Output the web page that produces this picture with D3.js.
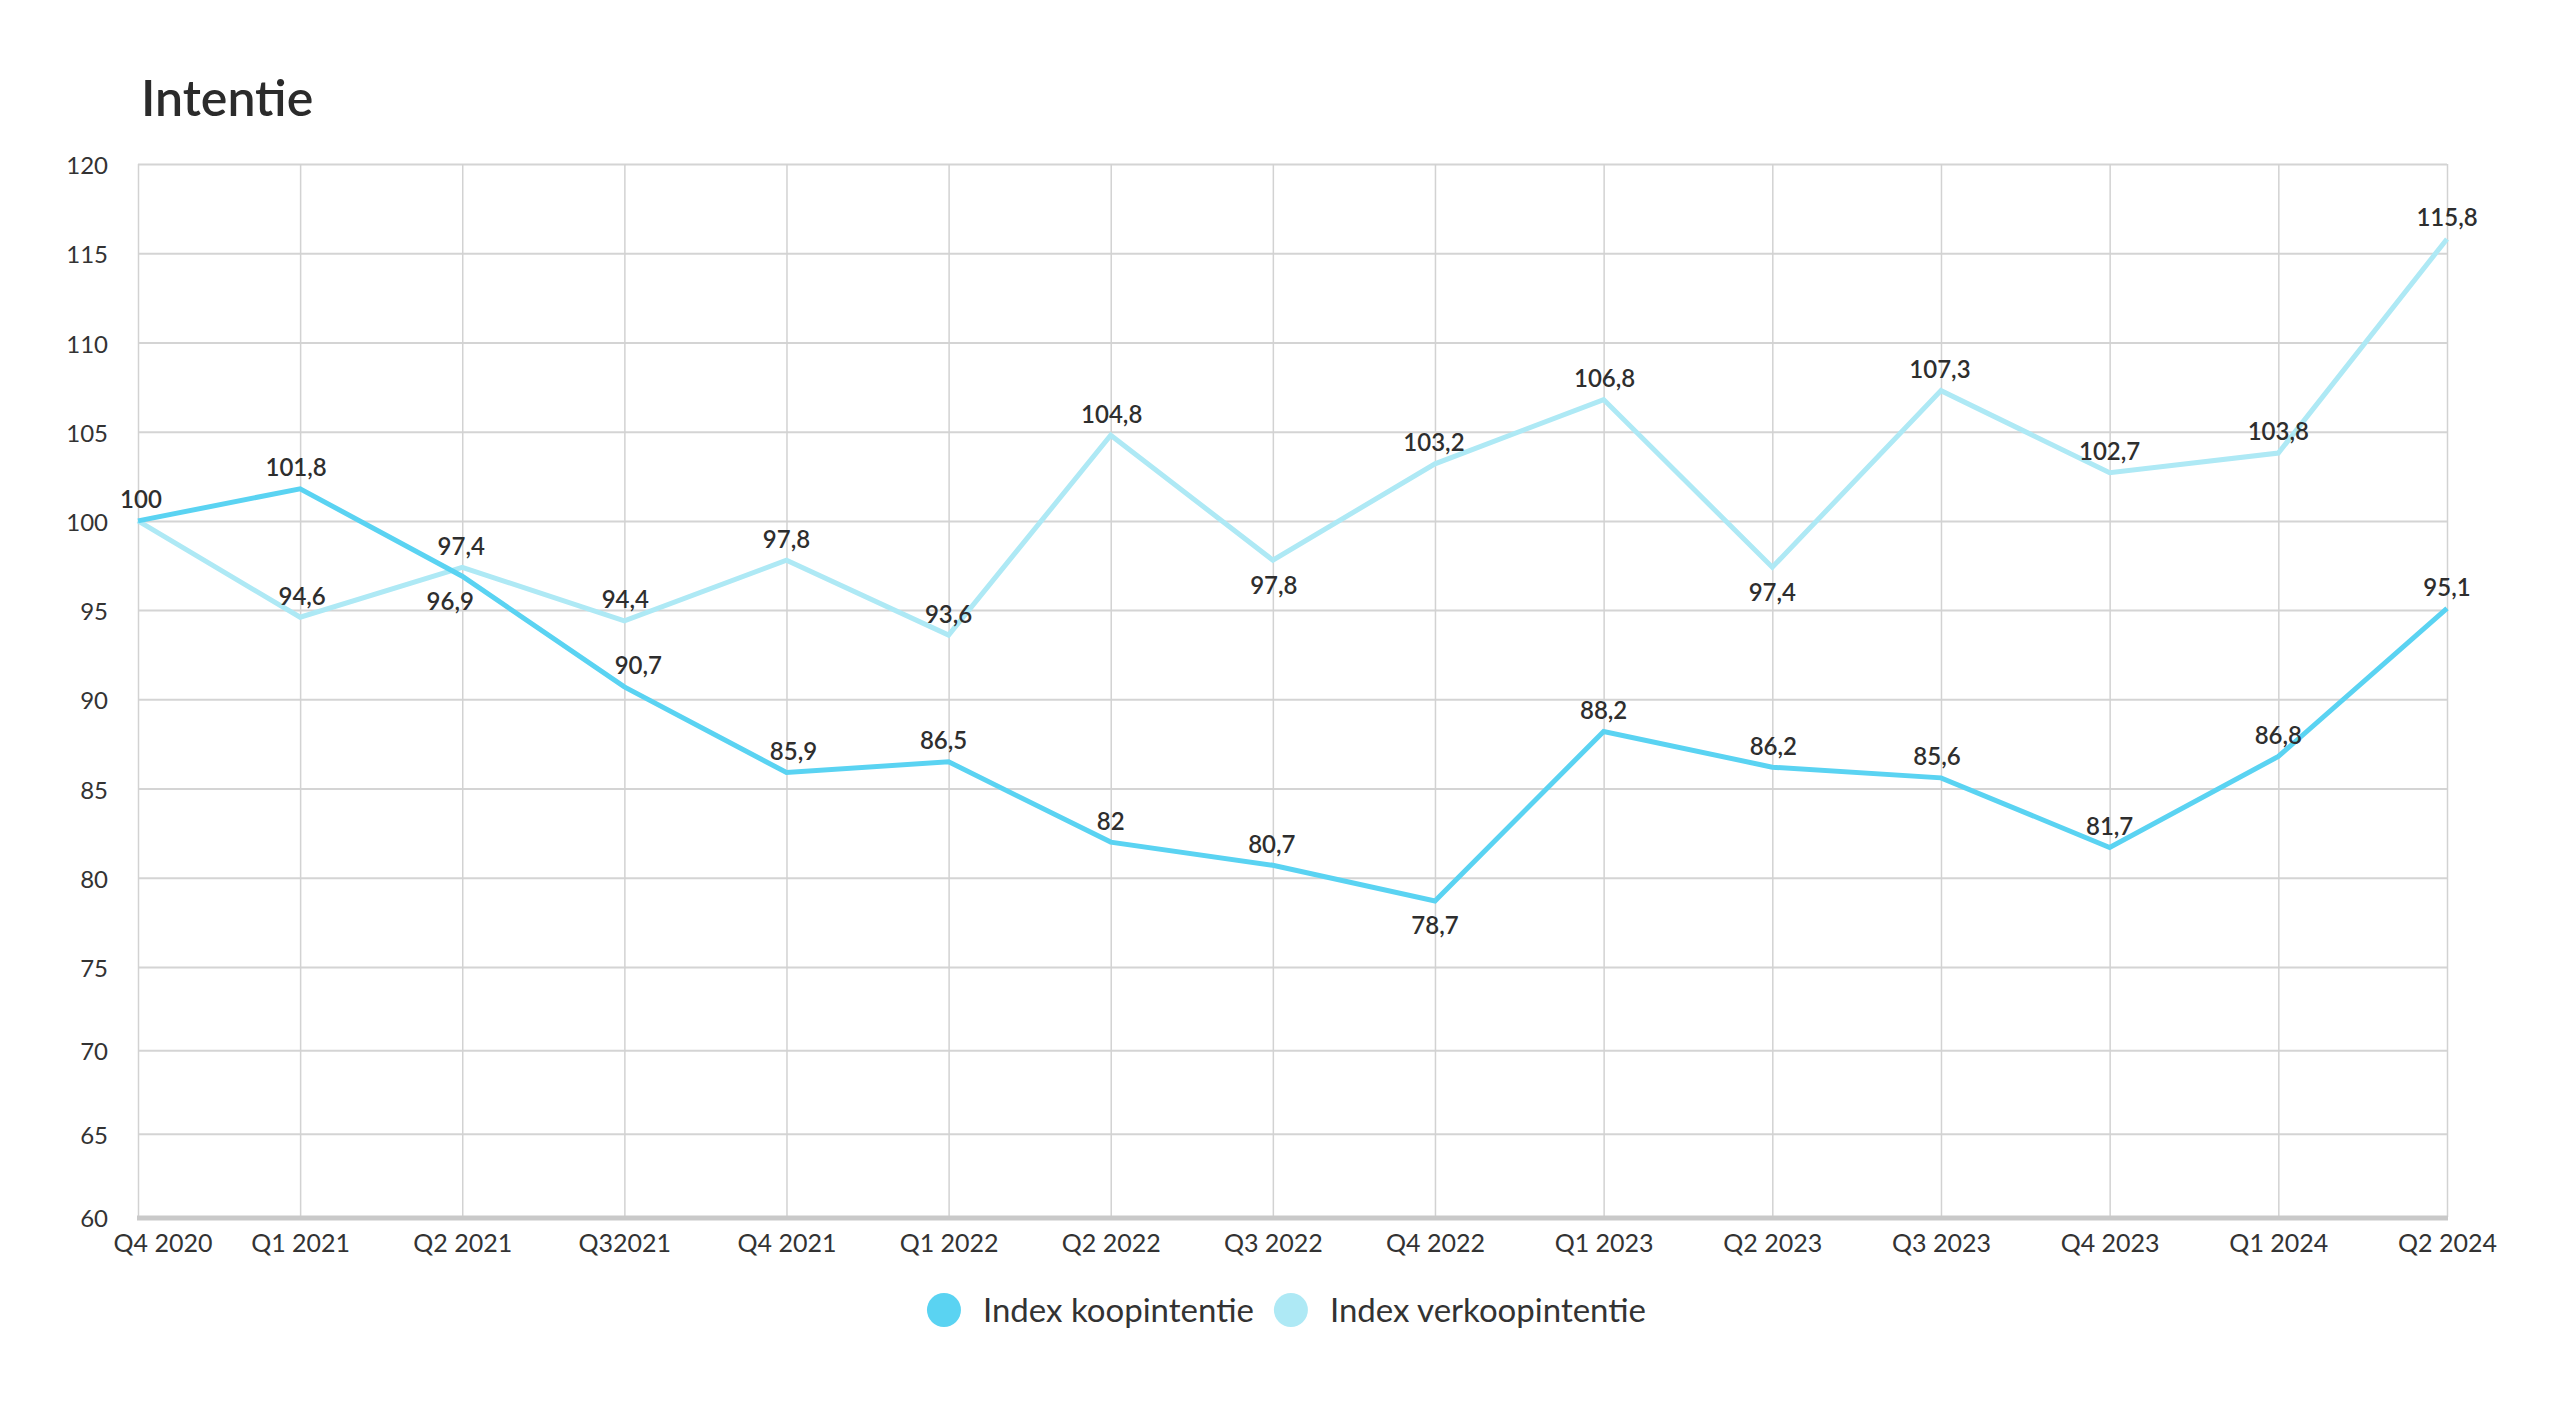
<!DOCTYPE html>
<html>
<head>
<meta charset="utf-8">
<script src="https://cdn.jsdelivr.net/npm/d3@7"></script>
<style>
  html, body { margin: 0; padding: 0; background: #ffffff; }
  svg { display: block; font-family: Lato, "Open Sans", sans-serif; }
</style>
</head>
<body>
<svg id="chart" width="2573" height="1417"></svg>
<script>
// ---------- data ----------
const categories = ["Q4 2020","Q1 2021","Q2 2021","Q32021","Q4 2021","Q1 2022","Q2 2022","Q3 2022","Q4 2022","Q1 2023","Q2 2023","Q3 2023","Q4 2023","Q1 2024","Q2 2024"];
const koopintentie = [100, 101.8, 96.9, 90.7, 85.9, 86.5, 82, 80.7, 78.7, 88.2, 86.2, 85.6, 81.7, 86.8, 95.1];
const verkoopintentie = [100, 94.6, 97.4, 94.4, 97.8, 93.6, 104.8, 97.8, 103.2, 106.8, 97.4, 107.3, 102.7, 103.8, 115.8];
const yTicks = [60, 65, 70, 75, 80, 85, 90, 95, 100, 105, 110, 115, 120];
const seriesNames = ["Index koopintentie", "Index verkoopintentie"];
const titleText = "Intentie";

// ---------- label placement (style, not data) ----------
// a = above, b = below, n = none ; with optional horizontal nudge
const koopLabelPos = ["a","a","b","a","a","a","a","a","b","a","a","a","a","a","a"];
const koopLabelDx  = [3,-4,-12,14,7,-5,0,-1,0,0,1,-4,0,0,0];
const verkLabelPos = ["n","a","a","a","a","a","a","b","a","a","b","a","a","a","a"];
const verkLabelDx  = [0,2,-1,1,0,0,1,1,-1,1,0,-1,0,0,0];

// ---------- layout ----------
const W = 2573, H = 1417;
const plotLeft = 138, plotRight = 2447, plotTop = 164, plotBottom = 1217;
const colorKoop = "#5ad3f2";
const colorVerk = "#aee9f5";
const textColor = "#2e2e2e";

const svg = d3.select("#chart");

// x scale: slightly wider spacing after Q4 2022 as in the reference
const xBreak = plotLeft + (plotRight - plotLeft) * 0.5617;
const x = d3.scaleLinear()
  .domain([0, 8, categories.length - 1])
  .range([plotLeft, xBreak, plotRight]);

// y scale: lower band slightly compressed, as in the reference
const yBreak = plotBottom - (plotBottom - plotTop) * 0.2374;
const y = d3.scaleLinear()
  .domain([60, 75, 120])
  .range([plotBottom, yBreak, plotTop]);

// title
svg.append("text")
  .attr("x", 141)
  .attr("y", 116)
  .attr("font-size", 50)
  .attr("font-weight", 600)
  .attr("fill", "#2b2b2b")
  .text(titleText);

// horizontal gridlines
const gy = svg.append("g")
  .attr("transform", `translate(${plotLeft},0)`)
  .call(d3.axisLeft(y).tickValues(yTicks).tickSize(-(plotRight - plotLeft)).tickFormat(""));
gy.select(".domain").remove();
gy.selectAll(".tick line").attr("stroke", "#d4d4d4").attr("stroke-width", 2);

// vertical gridlines
const gx = svg.append("g")
  .attr("transform", `translate(0,${plotBottom})`)
  .call(d3.axisBottom(x).tickValues(d3.range(categories.length)).tickSize(-(plotBottom - plotTop)).tickFormat(""));
gx.select(".domain").remove();
gx.selectAll(".tick line").attr("stroke", "#d2d2d2").attr("stroke-width", 1.5);

// baseline
svg.append("line")
  .attr("x1", plotLeft - 1).attr("x2", plotRight + 1)
  .attr("y1", y(60) + 1).attr("y2", y(60) + 1)
  .attr("stroke", "#c9c9c9").attr("stroke-width", 5);

// y tick labels
const yl = svg.append("g")
  .attr("transform", `translate(${plotLeft},0)`)
  .call(d3.axisLeft(y).tickValues(yTicks).tickSize(0).tickPadding(30).tickFormat(d3.format("d")));
yl.select(".domain").remove();
yl.selectAll("text")
  .attr("font-family", "Lato, sans-serif")
  .attr("font-size", 24)
  .attr("fill", "#333333")
  .attr("dy", "0.4em");

// x tick labels
const xl = svg.append("g")
  .attr("transform", `translate(0,${plotBottom})`)
  .call(d3.axisBottom(x).tickValues(d3.range(categories.length)).tickSize(0).tickPadding(17).tickFormat(i => categories[i]));
xl.select(".domain").remove();
xl.selectAll("text")
  .attr("font-family", "Lato, sans-serif")
  .attr("font-size", 25)
  .attr("fill", "#333333");
xl.selectAll(".tick").filter(i => i === 0).select("text")
  .attr("text-anchor", "start")
  .attr("x", -25);

// lines
const line = d3.line().x((d, i) => x(i)).y(d => y(d));
svg.append("path")
  .datum(verkoopintentie)
  .attr("fill", "none")
  .attr("stroke", colorVerk)
  .attr("stroke-width", 5)
  .attr("stroke-linejoin", "miter")
  .attr("d", line);
svg.append("path")
  .datum(koopintentie)
  .attr("fill", "none")
  .attr("stroke", colorKoop)
  .attr("stroke-width", 5)
  .attr("stroke-linejoin", "miter")
  .attr("d", line);

// data labels
const fmt = v => String(v).replace(".", ",");
function addLabels(values, pos, dxs) {
  svg.append("g").selectAll("text")
    .data(values.map((v, i) => ({ v, i })).filter(d => pos[d.i] !== "n"))
    .join("text")
    .attr("x", d => x(d.i) + dxs[d.i])
    .attr("y", d => y(d.v) + (pos[d.i] === "a" ? -21 : 25))
    .attr("dy", "0.35em")
    .attr("text-anchor", "middle")
    .attr("font-family", "Lato, sans-serif")
    .attr("font-size", 24)
    .attr("font-weight", 600)
    .attr("fill", textColor)
    .text(d => fmt(d.v));
}
addLabels(verkoopintentie, verkLabelPos, verkLabelDx);
addLabels(koopintentie, koopLabelPos, koopLabelDx);

// legend
const legendColors = [colorKoop, colorVerk];
const legend = svg.append("g");
const items = legend.selectAll("g").data(seriesNames).join("g");
items.append("circle").attr("r", 17).attr("cy", 0).attr("fill", (d, i) => legendColors[i]);
items.append("text")
  .attr("x", 39)
  .attr("dy", "0.35em")
  .attr("font-family", "Lato, sans-serif")
  .attr("font-size", 33)
  .attr("fill", "#333333")
  .text(d => d);
// position items side by side, centered
const widths = [];
items.each(function () {
  const t = d3.select(this).select("text").node().getComputedTextLength();
  widths.push(17 + 39 + t);
});
const gap = 20;
const totalW = d3.sum(widths) + gap * (widths.length - 1);
const start = W / 2 - totalW / 2 + 17;
items.attr("transform", (d, i) => {
  const tx = start + d3.sum(widths.slice(0, i)) + gap * i;
  return `translate(${tx},1310)`;
});
</script>
</body>
</html>
